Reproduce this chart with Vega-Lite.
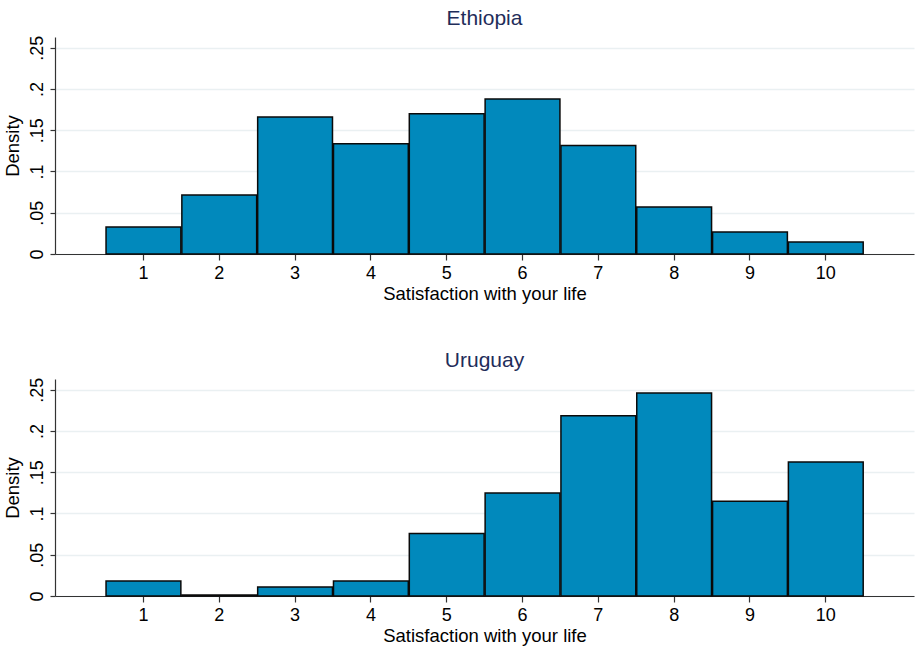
{
  "$schema": "https://vega.github.io/schema/vega-lite/v6.json",
  "background": "white",
  "padding": {"left": 3, "top": 8, "right": 2, "bottom": 1},
  "config": {
    "font": "Liberation Sans",
    "view": {"stroke": null},
    "title": {"fontSize": 21, "fontWeight": "normal", "color": "#1f2d5a", "offset": 6, "anchor": "middle"},
    "axis": {"labelFont": "Liberation Sans", "titleFont": "Liberation Sans", "labelFontSize": 18, "titleFontSize": 18.5, "titleFontWeight": "normal", "labelColor": "#000000", "titleColor": "#000000", "domainColor": "#333333", "tickColor": "#333333", "domainWidth": 1.2, "tickWidth": 1.2}
  },
  "datasets": {
    "ethiopia": [
      {"score": 1, "lo": 0.5, "hi": 1.5, "density": 0.0328},
      {"score": 2, "lo": 1.5, "hi": 2.5, "density": 0.0716},
      {"score": 3, "lo": 2.5, "hi": 3.5, "density": 0.166},
      {"score": 4, "lo": 3.5, "hi": 4.5, "density": 0.1335},
      {"score": 5, "lo": 4.5, "hi": 5.5, "density": 0.170},
      {"score": 6, "lo": 5.5, "hi": 6.5, "density": 0.188},
      {"score": 7, "lo": 6.5, "hi": 7.5, "density": 0.1315},
      {"score": 8, "lo": 7.5, "hi": 8.5, "density": 0.057},
      {"score": 9, "lo": 8.5, "hi": 9.5, "density": 0.0267},
      {"score": 10, "lo": 9.5, "hi": 10.5, "density": 0.0146}
    ],
    "uruguay": [
      {"score": 1, "lo": 0.5, "hi": 1.5, "density": 0.0182},
      {"score": 2, "lo": 1.5, "hi": 2.5, "density": 0.0012},
      {"score": 3, "lo": 2.5, "hi": 3.5, "density": 0.011},
      {"score": 4, "lo": 3.5, "hi": 4.5, "density": 0.0182},
      {"score": 5, "lo": 4.5, "hi": 5.5, "density": 0.0758},
      {"score": 6, "lo": 5.5, "hi": 6.5, "density": 0.1248},
      {"score": 7, "lo": 6.5, "hi": 7.5, "density": 0.2185},
      {"score": 8, "lo": 7.5, "hi": 8.5, "density": 0.246},
      {"score": 9, "lo": 8.5, "hi": 9.5, "density": 0.1147},
      {"score": 10, "lo": 9.5, "hi": 10.5, "density": 0.1625}
    ]
  },
  "vconcat": [
    {
      "title": "Ethiopia",
      "width": 859,
      "height": 217,
      "data": {"name": "ethiopia"},
      "mark": {"type": "bar", "fill": "#0189bc", "stroke": "#0a0a0a", "strokeWidth": 1.5, "orient": "vertical"},
      "encoding": {
        "x": {"field": "lo", "type": "quantitative", "bin": "binned", "scale": {"domain": [-0.16, 11.17], "nice": false, "zero": false, "padding": 0},
              "axis": {"title": "Satisfaction with your life", "values": [1,2,3,4,5,6,7,8,9,10], "format": "d", "grid": false, "tickSize": 6, "labelPadding": 4, "titlePadding": 2}},
        "x2": {"field": "hi"},
        "y": {"field": "density", "type": "quantitative", "scale": {"domain": [0, 0.263], "nice": false, "padding": 0},
              "axis": {"title": "Density", "values": [0, 0.05, 0.1, 0.15, 0.2, 0.25], "labelExpr": "datum.value == 0 ? '0' : replace(format(datum.value, '.2~f'), /^0/, '')", "labelAngle": -90, "labelAlign": "center", "labelBaseline": "bottom", "grid": true, "gridColor": "#eaf0f2", "gridWidth": 1.5, "tickSize": 5, "labelPadding": 4, "titlePadding": 6}},
        "y2": {"datum": 0}
      }
    },
    {
      "title": "Uruguay",
      "width": 859,
      "height": 217,
      "data": {"name": "uruguay"},
      "mark": {"type": "bar", "fill": "#0189bc", "stroke": "#0a0a0a", "strokeWidth": 1.5, "orient": "vertical"},
      "encoding": {
        "x": {"field": "lo", "type": "quantitative", "bin": "binned", "scale": {"domain": [-0.16, 11.17], "nice": false, "zero": false, "padding": 0},
              "axis": {"title": "Satisfaction with your life", "values": [1,2,3,4,5,6,7,8,9,10], "format": "d", "grid": false, "tickSize": 6, "labelPadding": 4, "titlePadding": 2}},
        "x2": {"field": "hi"},
        "y": {"field": "density", "type": "quantitative", "scale": {"domain": [0, 0.263], "nice": false, "padding": 0},
              "axis": {"title": "Density", "values": [0, 0.05, 0.1, 0.15, 0.2, 0.25], "labelExpr": "datum.value == 0 ? '0' : replace(format(datum.value, '.2~f'), /^0/, '')", "labelAngle": -90, "labelAlign": "center", "labelBaseline": "bottom", "grid": true, "gridColor": "#eaf0f2", "gridWidth": 1.5, "tickSize": 5, "labelPadding": 4, "titlePadding": 6}},
        "y2": {"datum": 0}
      }
    }
  ],
  "spacing": 47
}
